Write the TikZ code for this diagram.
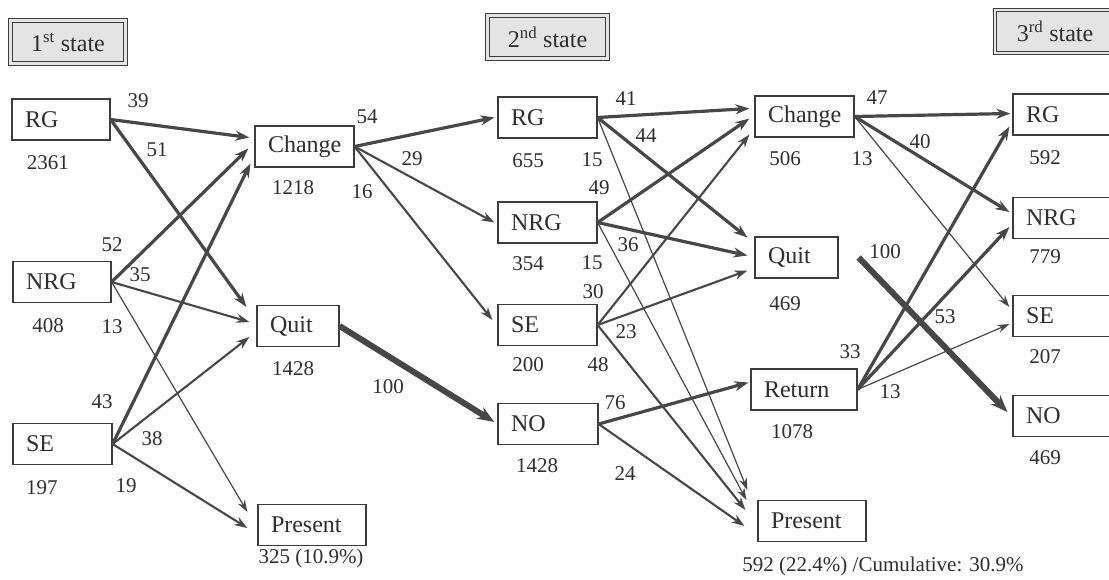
\documentclass[tikz,border=0pt]{standalone}
\usepackage{fontspec}
\setmainfont{Liberation Serif}
\usepackage{tikz}
\usetikzlibrary{arrows.meta,calc}
\usepackage{xcolor}
\definecolor{edge}{HTML}{474747}
\definecolor{boxline}{HTML}{3C3C3C}
\definecolor{headfill}{HTML}{E4E4E4}
\definecolor{txt}{HTML}{2E2E2E}

\begin{document}
\begin{tikzpicture}[x=1pt,y=-1pt,
    box/.style={draw=boxline,line width=1.2pt,fill=white,minimum height=41pt,
      inner xsep=13pt,text width=#1,align=left,text=txt,
      font=\fontsize{24}{26}\selectfont},
    head/.style={draw=boxline,line width=1.2pt,double=headfill,double distance=2.2pt,
      fill=headfill,minimum width=#1,minimum height=43pt,text=txt,
      font=\fontsize{24}{26}\selectfont},
    num/.style={text=txt,inner sep=0pt,font=\fontsize{21}{23}\selectfont},
    ln1/.style={draw=edge,line width=1.2pt,-{Stealth[length=12pt,width=8pt]}},
    ln2/.style={draw=edge,line width=2.1pt,-{Stealth[length=13pt,width=9pt]}},
    ln3/.style={draw=edge,line width=3.2pt,-{Stealth[length=14pt,width=10pt]}},
    ln4/.style={draw=edge,line width=6pt,-{Stealth[length=17pt,width=13pt]}}]
  \useasboundingbox (0,0) rectangle (1109,579);
  \clip (0,0) rectangle (1109,579);

  % State headers
  \node[head=115pt] (h1) at (68,42) {1\textsuperscript{st} state};
  \node[head=120pt] (h2) at (547.5,37) {2\textsuperscript{nd} state};
  \node[head=120pt] (h3) at (1055,31.5) {3\textsuperscript{rd} state};

  % 1st state
  \node[box=72pt] (rg1) at (61,119.5) {RG};
  \node[box=72pt] (nrg1) at (62,282) {NRG};
  \node[box=73pt] (se1) at (62.5,444) {SE};

  % Decisions after 1st state
  \node[box=73pt] (chg2) at (304.5,146.5) {Change};
  \node[box=56pt] (quit2) at (298,326) {Quit};
  \node[box=82pt] (pres2) at (312,525) {Present};

  % 2nd state
  \node[box=73pt] (rg3) at (547.5,117.5) {RG};
  \node[box=73pt] (nrg3) at (547.5,222.5) {NRG};
  \node[box=73pt] (se3) at (547.5,325) {SE};
  \node[box=74pt] (no3) at (548,424) {NO};

  % Decisions after 2nd state
  \node[box=73pt] (chg4) at (804.5,116.5) {Change};
  \node[box=57pt] (quit4) at (796.5,257.5) {Quit};
  \node[box=80pt] (ret4) at (804,389.5) {Return};
  \node[box=82pt] (pres4) at (812,521) {Present};

  % 3rd state
  \node[box=73pt] (rg5) at (1062.5,114.5) {RG};
  \node[box=73pt] (nrg5) at (1062.5,218) {NRG};
  \node[box=73pt] (se5) at (1062.5,316) {SE};
  \node[box=73pt] (no5) at (1062.5,416) {NO};

  % Transitions
  \foreach \a/\b/\dx/\dy/\w in {
      rg1/chg2/-5/-9/ln3, rg1/quit2/-10/-19/ln3,
      nrg1/chg2/-6/2/ln3, nrg1/quit2/-7/-4/ln2, nrg1/pres2/-10/-13/ln1,
      se1/chg2/-4/17/ln3, se1/quit2/-7/11/ln2, se1/pres2/-10/3/ln2,
      chg2/rg3/-3/0/ln3, chg2/nrg3/-3/0/ln2, chg2/se3/-5/-5/ln2,
      quit2/no3/-3/-2/ln4,
      rg3/chg4/-5/-8/ln3, rg3/quit4/-7/-20/ln3, rg3/pres4/-10/-31/ln1,
      nrg3/chg4/-5/2/ln3, nrg3/quit4/-7/-2/ln3, nrg3/pres4/-11/-21/ln1,
      se3/chg4/-5/18/ln2, se3/quit4/-7/13/ln2, se3/pres4/-12/-11/ln2,
      no3/ret4/-2/-7/ln3, no3/pres4/-13/5/ln2,
      chg4/rg5/-2/-1/ln3, chg4/nrg5/-3/-6/ln3, chg4/se5/-3/-9/ln1,
      ret4/rg5/-3/12/ln3, ret4/nrg5/-3/9/ln3, ret4/se5/-3/8/ln1} {
    \draw[\w] (\a.east) -- ($(\b.west)+(\dx,\dy)$);
  }
  \draw[ln4] ($(quit4.east)+(20,0)$) -- ($(no5.west)+(-5,-4)$);

  % Counts and percentages
  \foreach \x/\y/\t [count=\k] in {
      48/163/2361, 48/326/408, 42/488/197,
      138/101/39, 157/150/51, 112/245/52, 140/275/35, 112/327/13,
      102/402/43, 152/439/38, 126/486/19,
      293/188/1218, 367/117/54, 362/192/16, 412/159/29, 293/369/1428,
      388/387/100,
      528/161/655, 592/160/15, 599/188/49, 626/99/41, 646/136/44,
      528/264/354, 592/263/15, 628/245/36, 593/292/30,
      528/365/200, 626/332/23, 598/365/48, 615/403/76, 537/466/1428, 625/474/24,
      785/159/506, 862/159/13, 877/98/47, 920/142/40, 785/304/469,
      885/252/100, 850/352/33, 945/317/53, 890/392/13, 792/432/1078,
      1045/158/592, 1045/257/779, 1045/357/207, 1045/458/469} {
    \node[num] (n\k) at (\x,\y) {\t};
  }
  \node[num] (p2) at (311,558) {325 (10.9\%)};
  \node[num] (p4) at (883,566) {592 (22.4\%) /Cumulative: 30.9\%};
\end{tikzpicture}
\end{document}
